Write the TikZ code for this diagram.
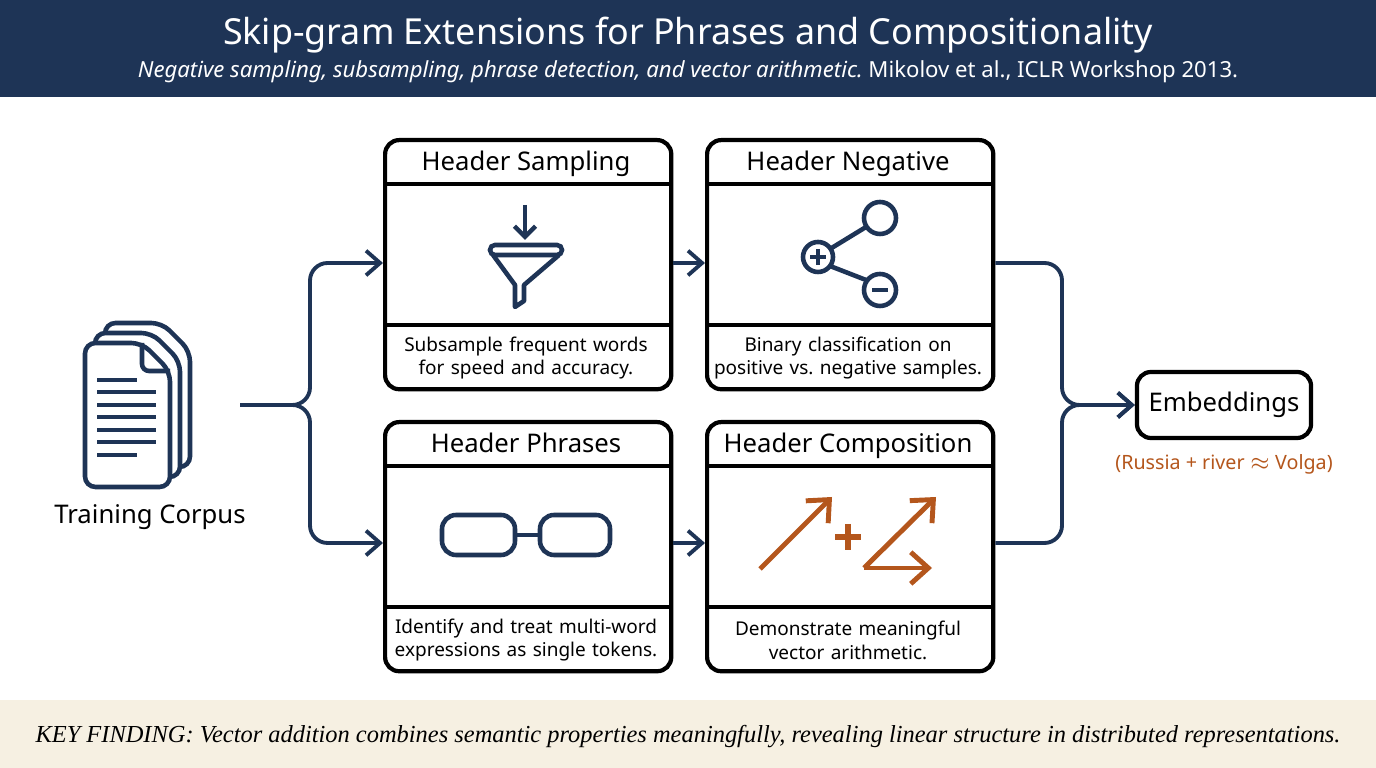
\documentclass[tikz,border=0pt]{standalone}
\usepackage{fontspec}
\setmainfont{Noto Sans}
\newfontfamily\keyfont{Liberation Serif}
\usetikzlibrary{arrows.meta}
\definecolor{navy}{HTML}{1E3456}
\definecolor{rust}{HTML}{B4561C}
\definecolor{sand}{HTML}{F6F0E2}
\frenchspacing
\tikzset{
  panel/.style={draw, line width=1.2pt, rounded corners=4pt, minimum width=2.86cm, anchor=north west},
  flow/.style={navy, line width=1.1pt, rounded corners=5pt},
  tip/.style={-{Straight Barb[length=4pt, width=7pt, line width=1.1pt]}},
  icon/.style={navy, line width=1.3pt},
  hdr/.style={font=\fontsize{7.3}{8.5}\selectfont, anchor=base},
  desc/.style={font=\fontsize{5.4}{6.8}\selectfont, align=center, text width=2.8cm},
}
\begin{document}
\begin{tikzpicture}[x=0.01cm, y=-0.01cm]
    \useasboundingbox (0,0) rectangle (1376,768);
    % Bandeau titre et constat
    \fill[navy] (0,0) rectangle (1376,97);
    \fill[sand] (0,700) rectangle (1376,768);
    \node[white, font=\fontsize{10.2}{12}\selectfont] (title) at (688,35) {Skip-gram Extensions for Phrases and Compositionality};
    \node[white, font=\fontsize{6.3}{7.5}\selectfont] (subtitle) at (688,72) {\textit{Negative sampling, subsampling, phrase detection, and vector arithmetic.} Mikolov et al., ICLR Workshop 2013.};
    \node[font=\keyfont\itshape\fontsize{6.95}{8}\selectfont] (finding) at (688,737) {KEY FINDING: Vector addition combines semantic properties meaningfully, revealing linear structure in distributed representations.};

    % Panneaux
    \foreach \nm/\x/\y/\h/\d in {samp/383/138/Header Sampling/{Subsample frequent words\\for speed and accuracy.},
                               neg/705/138/Header Negative/{Binary classification on\\positive vs. negative samples.},
                               phr/383/420/Header Phrases/{Identify and treat multi-word\\expressions as single tokens.},
                               comp/705/420/Header Composition/{Demonstrate meaningful\\vector arithmetic.}} {
      \node[panel, minimum height=2.49cm] (\nm) at (\x,\y) {};
      \draw[line width=1.2pt] (\x,\y+46) -- ++(286,0);
      \draw[line width=1.2pt] (\x,\y+187) -- ++(286,0);
      \node[hdr] (\nm-h) at (\x+143,\y+33) {\h};
      \node[desc] (\nm-d) at (\x+143,\y+220) {\d};
    }

    % Corpus
    \foreach \o in {20,10,0} {
      \draw[icon, fill=white, rounded corners=3pt] (85+\o,343-\o) -- (142+\o,343-\o) -- (170+\o,371-\o) -- (170+\o,487-\o) -- (85+\o,487-\o) -- cycle;
    }
    \draw[icon, rounded corners=2pt] (142,343) -- (142,371) -- (170,371);
    \foreach \yy/\len in {380/40,392/59,405/59,417/59,430/59,442/59,455/40} \draw[navy, line width=1.3pt] (97,\yy) -- ++(\len,0);
    \node[font=\fontsize{7.3}{8.5}\selectfont] (corpus) at (150,517) {Training Corpus};
    \coordinate (src) at (240,405);

    % Embeddings
    \node[draw, line width=1.2pt, rounded corners=4pt, minimum width=1.74cm, minimum height=0.66cm, font=\fontsize{7.3}{8.5}\selectfont] (emb) at (1224,405) {Embeddings};
    \node[rust, font=\fontsize{5.6}{7}\selectfont] (emb-note) at (1224,464) {(Russia + river $\approx$ Volga)};

    % Connexions
    \coordinate (join) at (1062,405);
    \draw[flow, tip] (src) -- (310,405) |- (samp.west |- 0,263);
    \draw[flow, tip] (src) -- (310,405) |- (phr.west |- 0,543);
    \draw[flow, tip] (samp.east |- 0,263) -- (neg.west |- 0,263);
    \draw[flow, tip] (phr.east |- 0,543) -- (comp.west |- 0,543);
    \draw[flow, tip] (neg.east |- 0,263) -| (join) -- (emb.west);
    \draw[flow, tip] (comp.east |- 0,543) -| (join) -- (emb.west);

    % Icone entonnoir
    \draw[icon, -{Straight Barb[length=3pt, width=6pt]}] (525,205) -- (525,240);
    \draw[icon, rounded corners=1.4pt] (490,245) rectangle (562,255);
    \draw[icon, line join=round] (493,255) -- (515,285) -- (515,307) -- (524,301) -- (524,285) -- (559,255);

    % Icone positif / negatif
    \draw[icon] (818,257) circle (15) (880,218) circle (16) (880,290) circle (16);
    \draw[icon] (830,249) -- (866,227) (830,266) -- (866,280);
    \draw[icon] (810,257) -- (826,257) (818,249) -- (818,265) (872,290) -- (888,290);

    % Icone phrase
    \draw[icon, rounded corners=4pt] (442,515) rectangle (515,555) (540,515) rectangle (610,555);
    \draw[icon] (515,535) -- (540,535);

    % Icone vecteurs
    \begin{scope}[rust, line width=1.4pt, -{Straight Barb[length=5pt, width=9pt]}]
      \draw (760,569) -- (832,497);
      \draw (864,568) -- (936,497);
      \draw (864,568) -- (932,568);
    \end{scope}
    \draw[rust, line width=1.5pt] (835,537) -- (861,537) (848,524) -- (848,550);
\end{tikzpicture}
\end{document}
